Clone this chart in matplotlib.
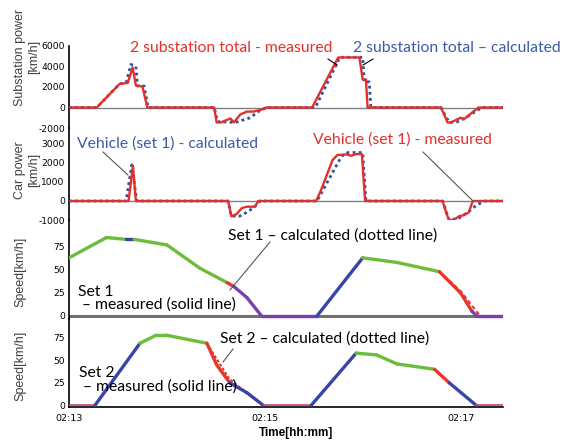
import matplotlib
matplotlib.use("Agg")
import matplotlib.pyplot as plt
from matplotlib.collections import LineCollection
from matplotlib.lines import Line2D
import numpy as np

plt.rcParams["axes.unicode_minus"] = False

# time in seconds after 02:13
sub_meas_t = [0, 17, 31, 36, 39, 41, 45, 48, 89, 90.5, 93, 99, 101, 105, 109, 113, 118, 121,
              149, 165, 178, 180, 182, 183, 228, 232, 234, 240, 242, 247, 251, 266]
sub_meas_v = [0, 0, 2300, 2400, 3900, 2150, 2050, 0, 0, -1460, -1460, -1070, -1460, -680, -400, -400, -200, 0,
              0, 4880, 4880, 2730, 2730, 0, 0, -1460, -1460, -1000, -1150, -500, 0, 0]
sub_calc_t = [0, 17, 31, 35, 38, 41, 42, 46, 48.5, 89, 91, 102, 111, 116, 121,
              151, 166, 180, 181, 184, 185, 228, 233, 238, 243, 248, 253, 266]
sub_calc_v = [0, 0, 2300, 2400, 4200, 4000, 2100, 2100, 0, 0, -1370, -1460, -1000, -400, 0,
              0, 4900, 4900, 2500, 2500, 0, 0, -1460, -1400, -1000, -500, 0, 0]

car_meas_t = [0, 36.5, 39.2, 41, 97.5, 99.5, 102.5, 106, 109, 114, 115, 116,
              151.5, 154.5, 161.5, 164.5, 170, 173, 176, 179.5, 181.5,
              229, 231.5, 233, 236, 239, 242, 245, 247.5, 266]
car_meas_v = [0, 0, 1840, 0, 0, -800, -700, -370, -300, -300, -150, 0,
              0, 580, 2150, 2420, 2450, 2380, 2470, 2470, 0,
              0, -700, -1000, -1000, -800, -750, -600, 0, 0]
car_calc_t = [0, 35, 38.5, 41.5, 97.5, 99.5, 104.5, 110, 115, 117,
              152, 167, 171, 180, 182, 229, 233, 239, 245, 250, 255, 266]
car_calc_v = [0, 0, 1900, 0, 0, -800, -800, -550, -200, 0,
              0, 2350, 2550, 2550, 0, 0, -1000, -900, -550, -200, 0, 0]

set1_t = [0, 23, 35, 40, 60, 80, 97, 101, 109, 118, 152, 180, 201, 227, 240, 247, 250, 266]
set1_v = [63, 85, 83, 83, 77, 52, 36, 32, 20, 0, 0, 63, 58, 48, 25, 5, 0, 0]
set1_phase = ["c", "c", "p", "c", "c", "c", "b", "s", "s", "s", "p", "c", "c", "b", "b", "s", "s"]
set1_calc_t = [227, 240, 252]
set1_calc_v = [48, 27, 0]

set2_t = [0, 16, 43.5, 53.5, 59.5, 84.5, 90.5, 98.5, 109, 119, 148.5, 176, 188.5, 201, 224, 233, 249.5, 266]
set2_v = [0, 0, 69, 78, 78, 69, 45, 25, 14, 0, 0, 58, 56, 46, 40, 25, 0, 0]
set2_phase = ["z", "p", "c", "c", "c", "b", "b", "p", "p", "z", "p", "c", "c", "c", "b", "p", "z"]
set2_calc_t = [84.5, 98, 110, 119]
set2_calc_v = [69, 30, 12, 0]

tick_t = [0, 120, 240]
tick_labels = ["02:13", "02:15", "02:17"]

RED = "#e2302c"
BLUE = "#2f4f9c"
TXT_BLUE = "#3c5ba8"
phase_col = {"c": "#6cbd3a", "p": "#3a44a8", "b": "#e8382a", "s": "#7b3fb0", "z": "#c0407a"}

W, H = 570, 441
fig = plt.figure(figsize=(W / 100, H / 100), dpi=100)


def px(x, y):
    return x / W, 1 - y / H


def add_ax(top, bottom):
    return fig.add_axes([69 / W, 1 - bottom / H, (503 - 69) / W, (bottom - top) / H])


ax1 = add_ax(46, 128)
ax2 = add_ax(128, 220)
ax3 = add_ax(220, 319)
ax4 = add_ax(319, 407)

for ax in (ax1, ax2, ax3, ax4):
    ax.set_xlim(0, 266)
    ax.patch.set_alpha(0)
    for s in ("top", "right", "bottom"):
        ax.spines[s].set_visible(False)
    ax.spines["left"].set_linewidth(1.2)
    ax.tick_params(axis="y", length=0, pad=3, labelsize=6.6)
    ax.set_xticks([])

ax1.set_ylim(-2000, 6000)
ax1.set_yticks([-2000, 0, 2000, 4000, 6000])
ax2.set_ylim(-1000, 3840)
ax2.set_yticks([-1000, 0, 1000, 2000, 3000])
ax3.set_ylim(-3.3, 104)
ax3.set_yticks([0, 25, 50, 75])
ax4.set_ylim(-2, 96)
ax4.set_yticks([0, 25, 50, 75])

# power panels
for ax, mt, mv, ct, cv in ((ax1, sub_meas_t, sub_meas_v, sub_calc_t, sub_calc_v),
                           (ax2, car_meas_t, car_meas_v, car_calc_t, car_calc_v)):
    ax.axhline(0, color="#808080", lw=1, zorder=1)
    ax.plot(ct, cv, color=BLUE, lw=2, ls=(0, (1, 1.2)), zorder=2)
    ax.plot(mt, mv, color=RED, lw=1.7, zorder=3)


def speed_line(ax, t, v, phase):
    pts = np.column_stack([t, v])
    segs = [pts[i:i + 2] for i in range(len(pts) - 1)]
    cols = [phase_col[p] for p in phase]
    lws = [1.2 if p == "z" else 2.4 for p in phase]
    ax.add_collection(LineCollection(segs, colors=cols, linewidths=lws, capstyle="round", zorder=3))


ax3.axhline(0, color="#707070", lw=2.2, zorder=1)
ax3.plot(set1_calc_t, set1_calc_v, color=RED, lw=1.4, ls=(0, (2, 1.5)), zorder=2)
speed_line(ax3, set1_t, set1_v, set1_phase)

ax4.spines["bottom"].set_visible(True)
ax4.spines["bottom"].set_linewidth(1.2)
ax4.plot(set2_calc_t, set2_calc_v, color=RED, lw=1.4, ls=(0, (1.5, 1)), zorder=2)
speed_line(ax4, set2_t, set2_v, set2_phase)
ax4.set_xticks(tick_t)
ax4.set_xticklabels(tick_labels)
ax4.tick_params(axis="x", length=0, pad=5, labelsize=6.8)

# axis labels
lab = dict(rotation=90, ha="center", va="center", fontsize=9, color="#404040",
           family="Liberation Sans", multialignment="center", linespacing=1.15)
fig.text(*px(27, 57), "Substation power\n[km/h]", **lab)
fig.text(*px(27, 170), "Car power\n[km/h]", **lab)
fig.text(*px(20, 272), "Speed[km/h]", **lab)
fig.text(*px(20, 366), "Speed[km/h]", **lab)
fig.text(*px(296, 433), "Time[hh:mm]", ha="center", va="center", fontsize=8.5,
         fontweight="bold", family="Liberation Sans")

# annotations
ann = dict(ha="left", va="center", family="Lato", fontsize=11.3)
fig.text(*px(130, 48), "2 substation total - measured", color=RED, **ann)
fig.text(*px(353, 48), "2 substation total \u2013 calculated", color=TXT_BLUE, **ann)
fig.text(*px(77, 144), "Vehicle (set 1) - calculated", color=TXT_BLUE, **ann)
fig.text(*px(313, 140), "Vehicle (set 1) - measured", color=RED, **ann)
fig.text(*px(228, 236), "Set 1 \u2013 calculated (dotted line)", color="black", **ann)
fig.text(*px(78, 292), "Set 1", color="black", **ann)
fig.text(*px(82, 305), "\u2013 measured (solid line)", color="black", **ann)
fig.text(*px(220, 339), "Set 2 \u2013 calculated (dotted line)", color="black", **ann)
fig.text(*px(79, 373), "Set 2", color="black", **ann)
fig.text(*px(83, 387), "\u2013 measured (solid line)", color="black", **ann)

leaders = [((328, 59), (337, 65), "black"), ((373, 59), (363, 65), "black"),
           ((103, 152), (128, 175), "#555555"), ((423, 152), (473, 201), "#555555"),
           ((270, 242), (230, 290), "#555555"), ((233, 349), (223, 362), "#555555")]
for a, b, c in leaders:
    (x0, y0), (x1, y1) = px(*a), px(*b)
    fig.add_artist(Line2D([x0, x1], [y0, y1], color=c, lw=0.8, zorder=5))

fig.savefig("out.png", dpi=100)
